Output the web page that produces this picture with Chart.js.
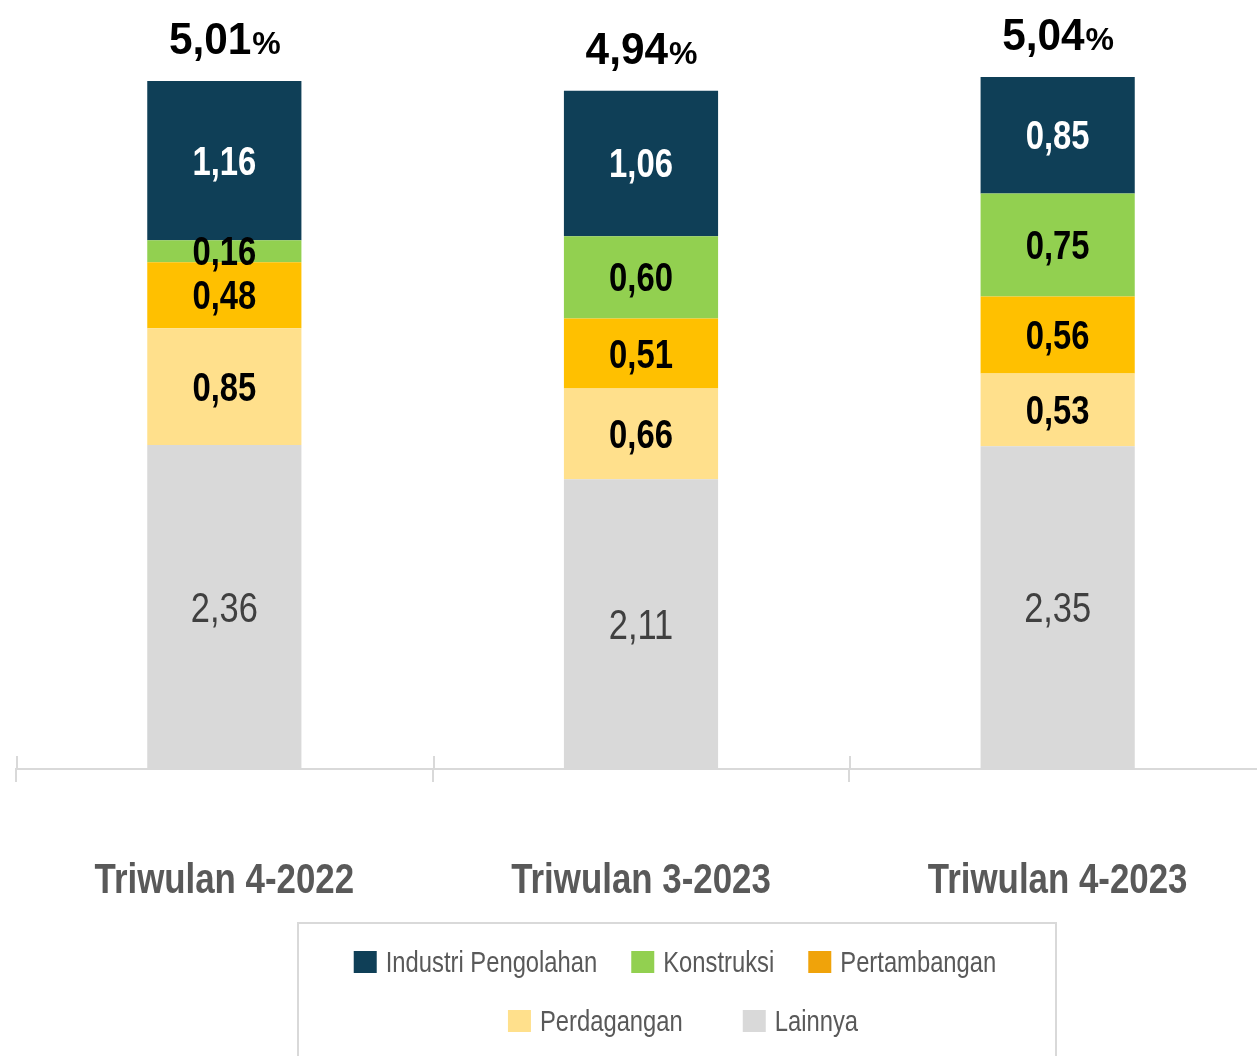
<!DOCTYPE html>
<html>
<head>
<meta charset="utf-8">
<script src="https://cdn.jsdelivr.net/npm/chart.js@4.4.1/dist/chart.umd.min.js"></script>
<style>
  html, body { margin: 0; padding: 0; background: #ffffff; overflow: hidden; width: 1257px; height: 1056px; }
  #wrap { position: absolute; left: 0; top: 0; width: 1266px; height: 1056px; }
</style>
</head>
<body>
<div id="wrap"><canvas id="c"></canvas></div>
<script>
const categories = ["Triwulan 4-2022", "Triwulan 3-2023", "Triwulan 4-2023"];
const seriesNames = ["Lainnya", "Perdagangan", "Pertambangan", "Konstruksi", "Industri Pengolahan"];
const lainnya = [2.36, 2.11, 2.35];
const perdagangan = [0.85, 0.66, 0.53];
const pertambangan = [0.48, 0.51, 0.56];
const konstruksi = [0.16, 0.60, 0.75];
const industri = [1.16, 1.06, 0.85];
const totals = [5.01, 4.94, 5.04];
const legendRows = [["Industri Pengolahan", "Konstruksi", "Pertambangan"], ["Perdagangan", "Lainnya"]];

const FONT = '"Liberation Sans", Arial, sans-serif';
const NARROW = 0.82;
const colors = ["#d9d9d9", "#ffe08c", "#ffc000", "#92d050", "#0f3f57"];
const legendColors = {"Industri Pengolahan": "#0f3f57", "Konstruksi": "#92d050", "Pertambangan": "#f0a30a", "Perdagangan": "#ffe08c", "Lainnya": "#d9d9d9"};
const labelColors = ["#404040", "#000000", "#000000", "#000000", "#ffffff"];
const labelFonts = ["normal 42px ", "bold 40px ", "bold 40px ", "bold 40px ", "bold 40px "];
const seriesValues = [lainnya, perdagangan, pertambangan, konstruksi, industri];

const fmt = v => v.toFixed(2).replace('.', ',');

// draw horizontally condensed text (imitating a narrow typeface)
function narrowText(ctx, text, x, y, font, sx, align, baseline) {
  ctx.save();
  ctx.font = font + FONT;
  ctx.textAlign = align;
  ctx.textBaseline = baseline;
  ctx.translate(x, y);
  ctx.scale(sx, 1);
  ctx.fillText(text, 0, 0);
  ctx.restore();
}
function narrowWidth(ctx, text, font, sx) {
  ctx.save();
  ctx.font = font + FONT;
  const w = ctx.measureText(text).width * sx;
  ctx.restore();
  return w;
}

const labelPlugin = {
  id: 'labels',
  afterDatasetsDraw(chart) {
    const ctx = chart.ctx;
    ctx.save();
    // segment labels
    chart.data.datasets.forEach((ds, di) => {
      const meta = chart.getDatasetMeta(di);
      meta.data.forEach((bar, i) => {
        const yc = (bar.y + bar.base) / 2 + 3;
        ctx.fillStyle = labelColors[di];
        narrowText(ctx, fmt(ds.data[i]), bar.x, yc, labelFonts[di], NARROW, 'center', 'middle');
      });
    });
    // totals
    const topMeta = chart.getDatasetMeta(chart.data.datasets.length - 1);
    topMeta.data.forEach((bar, i) => {
      const main = fmt(totals[i]);
      const w1 = narrowWidth(ctx, main, 'bold 45px ', 0.94);
      const w2 = narrowWidth(ctx, '%', 'bold 32px ', 1.0);
      const x0 = bar.x - (w1 + w2) / 2;
      const yb = bar.y - 27;
      ctx.fillStyle = '#000000';
      narrowText(ctx, main, x0, yb, 'bold 45px ', 0.94, 'left', 'alphabetic');
      narrowText(ctx, '%', x0 + w1 + 1, yb, 'bold 32px ', 1.0, 'left', 'alphabetic');
    });
    // category labels
    const xs = chart.scales.x;
    ctx.fillStyle = '#595959';
    categories.forEach((c, i) => {
      narrowText(ctx, c, xs.getPixelForTick(i), 893, 'bold 42px ', 0.83, 'center', 'alphabetic');
    });
    // upper half of tick marks
    ctx.strokeStyle = '#d9d9d9';
    ctx.lineWidth = 2;
    for (let k = 0; k < categories.length; k++) {
      const x = Math.round(xs.left + k * (xs.right - xs.left) / categories.length) + 1;
      ctx.beginPath();
      ctx.moveTo(x, xs.top - 13);
      ctx.lineTo(x, xs.top);
      ctx.stroke();
    }
    // legend
    const lx0 = 298, ly0 = 923, lx1 = 1056;
    ctx.strokeStyle = '#d9d9d9';
    ctx.lineWidth = 2;
    ctx.beginPath();
    ctx.moveTo(lx0, 1060);
    ctx.lineTo(lx0, ly0);
    ctx.lineTo(lx1, ly0);
    ctx.lineTo(lx1, 1060);
    ctx.stroke();
    const lfont = 'normal 29px ';
    const boxW = 23, boxH = 22, boxGap = 9;
    const rowGaps = [34, 60];
    const rowShift = [-2, 6];
    const rowCenters = [962, 1021];
    const cx = (lx0 + lx1) / 2;
    legendRows.forEach((row, ri) => {
      const widths = row.map(n => boxW + boxGap + narrowWidth(ctx, n, lfont, NARROW));
      const total = widths.reduce((a, b) => a + b, 0) + rowGaps[ri] * (row.length - 1);
      let x = cx - total / 2 + rowShift[ri];
      row.forEach((n, j) => {
        ctx.fillStyle = legendColors[n];
        ctx.fillRect(x, rowCenters[ri] - boxH / 2, boxW, boxH);
        ctx.fillStyle = '#595959';
        narrowText(ctx, n, x + boxW + boxGap, rowCenters[ri] + 10, lfont, NARROW, 'left', 'alphabetic');
        x += widths[j] + rowGaps[ri];
      });
    });
    ctx.restore();
  }
};

const chart = new Chart(document.getElementById('c'), {
  type: 'bar',
  data: {
    labels: categories,
    datasets: seriesNames.map((n, k) => ({
      label: n,
      data: seriesValues[k],
      backgroundColor: colors[k],
      borderWidth: 0,
      barPercentage: 0.37,
      categoryPercentage: 1.0
    }))
  },
  options: {
    responsive: true,
    maintainAspectRatio: false,
    animation: false,
    layout: { padding: { left: 16, right: 0, top: 0, bottom: 274 } },
    plugins: { legend: { display: false }, tooltip: { enabled: false } },
    scales: {
      x: {
        stacked: true,
        grid: { display: true, offset: true, drawOnChartArea: false, drawTicks: true, tickLength: 13, color: '#d9d9d9', lineWidth: 2 },
        border: { display: true, color: '#d9d9d9', width: 2 },
        ticks: { display: false }
      },
      y: {
        stacked: true,
        display: false,
        min: 0,
        max: 5.6
      }
    }
  },
  plugins: [labelPlugin]
});
</script>
</body>
</html>
